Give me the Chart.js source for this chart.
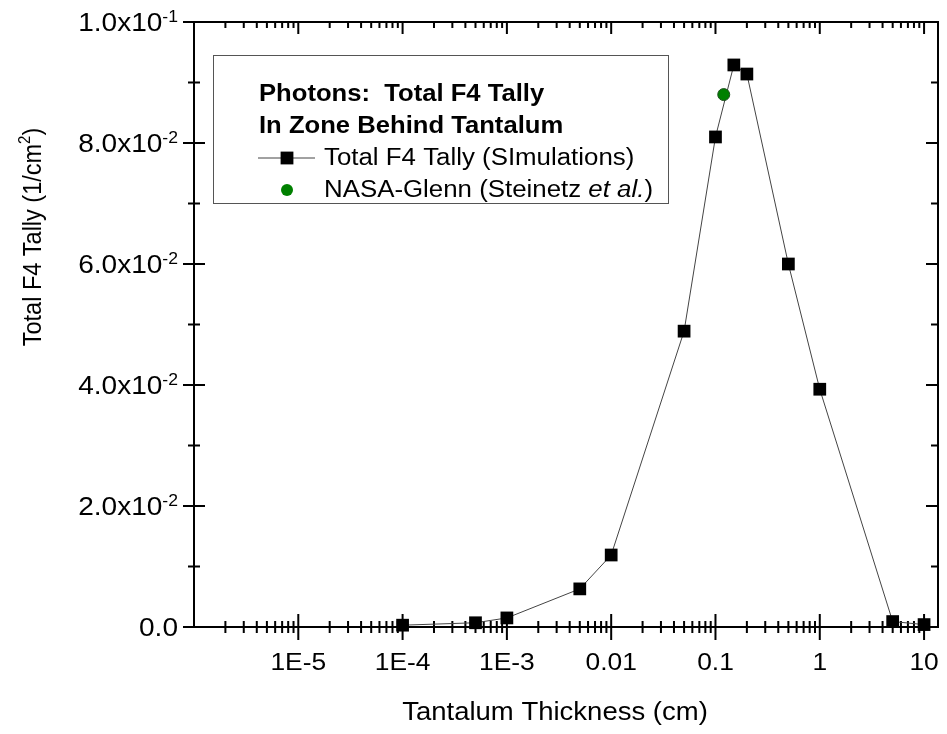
<!DOCTYPE html>
<html>
<head>
<meta charset="utf-8">
<script src="https://cdn.jsdelivr.net/npm/chart.js@4.4.0/dist/chart.umd.min.js"></script>
<style>
  html, body { margin: 0; padding: 0; background: #fff; }
  #wrap { width: 947px; height: 734px; }
</style>
</head>
<body>
<div id="wrap"><canvas id="myChart" width="947" height="734"></canvas></div>
<script>
// values
const thickness = [1e-4, 5e-4, 1e-3, 5e-3, 0.01, 0.05, 0.1, 0.15, 0.2, 0.5, 1, 5, 10]
const tally = [0.0003, 0.0007, 0.0015, 0.0063, 0.0119, 0.0489, 0.0810, 0.0929, 0.0914, 0.0600, 0.0393, 0.0009, 0.0004]
const nasaThickness = [0.12]
const nasaTally = [0.088]

const xTickValues = [1e-5, 1e-4, 1e-3, 0.01, 0.1, 1, 10]
const xTickLabels = ['1E-5', '1E-4', '1E-3', '0.01', '0.1', '1', '10']
const yTickValues = [0, 0.02, 0.04, 0.06, 0.08, 0.1]
const yTickBase = ['0.0', '2.0x10', '4.0x10', '6.0x10', '8.0x10', '1.0x10']
const yTickExp = ['', '-2', '-2', '-2', '-2', '-1']
const yMinorValues = [0.01, 0.03, 0.05, 0.07, 0.09]

const FONT = '"Liberation Sans", Arial, sans-serif'
const SX = 1.1 // the original text is a bit wide

// draw text stretched horizontally, returns drawn width
function wideText (ctx, s, x, y, font, align) {
  ctx.save()
  ctx.font = font
  const w = ctx.measureText(s).width * SX
  let x0 = x
  if (align === 'right') x0 = x - w
  if (align === 'center') x0 = x - w / 2
  ctx.translate(x0, y)
  ctx.scale(SX, 1)
  ctx.textAlign = 'left'
  ctx.textBaseline = 'alphabetic'
  ctx.fillText(s, 0, 0)
  ctx.restore()
  return w
}
function textWidth (ctx, s, font) {
  ctx.save()
  ctx.font = font
  const w = ctx.measureText(s).width * SX
  ctx.restore()
  return w
}

const axesPlugin = {
  id: 'axesPlugin',
  beforeDatasetsDraw (chart) {
    const { ctx, chartArea: a, scales: { x, y } } = chart
    ctx.save()
    ctx.strokeStyle = '#000'
    ctx.fillStyle = '#000'
    ctx.lineWidth = 2
    ctx.lineCap = 'butt'
    ctx.strokeRect(a.left, a.top, a.right - a.left, a.bottom - a.top)

    ctx.beginPath()
    x.ticks.forEach(t => {
      const px = x.getPixelForValue(t.value)
      if (px <= a.left + 2 || px >= a.right - 2) return
      const len = t.major ? 13 : 6
      ctx.moveTo(px, a.bottom - len)
      ctx.lineTo(px, a.bottom + len)
      ctx.moveTo(px, a.top)
      ctx.lineTo(px, a.top + (t.major ? 12 : 6))
    })
    y.ticks.forEach(t => {
      const py = y.getPixelForValue(t.value)
      const len = t.major ? 11 : 6
      ctx.moveTo(a.left - len, py)
      ctx.lineTo(a.left + len, py)
      ctx.moveTo(a.right, py)
      ctx.lineTo(a.right - (t.major ? 12 : 7), py)
    })
    ctx.stroke()

    // x tick labels
    const tf = '24px ' + FONT
    xTickValues.forEach((v, i) => {
      wideText(ctx, xTickLabels[i], x.getPixelForValue(v), a.bottom + 43, tf, 'center')
    })
    // y tick labels with superscript exponents
    const yl = '25.5px ' + FONT
    const sf = '16px ' + FONT
    yTickValues.forEach((v, i) => {
      const py = y.getPixelForValue(v)
      const right = a.left - 16
      let ws = 0
      if (yTickExp[i]) {
        ws = textWidth(ctx, yTickExp[i], sf)
        wideText(ctx, yTickExp[i], right - ws, py, sf, 'left')
      }
      wideText(ctx, yTickBase[i], right - ws, py + 9, yl, 'right')
    })

    // x title
    wideText(ctx, 'Tantalum Thickness (cm)', 555, 720, '25px ' + FONT, 'center')

    // y title (rotated)
    const yf = '23.5px ' + FONT
    const yfs = '15px ' + FONT
    ctx.save()
    ctx.translate(32, 237)
    ctx.rotate(-Math.PI / 2)
    ctx.scale(1, SX)
    ctx.textBaseline = 'alphabetic'
    ctx.textAlign = 'left'
    const p1 = 'Total F4 Tally (1/cm'
    ctx.font = yf
    const w1 = ctx.measureText(p1).width
    const w3 = ctx.measureText(')').width
    ctx.font = yfs
    const w2 = ctx.measureText('2').width
    const total = w1 + w2 + w3
    let cx = -total / 2
    ctx.font = yf
    ctx.fillText(p1, cx, 8)
    cx += w1
    ctx.font = yfs
    ctx.fillText('2', cx, -2)
    cx += w2
    ctx.font = yf
    ctx.fillText(')', cx, 8)
    ctx.restore()

    ctx.restore()
  }
}

const legendPlugin = {
  id: 'legendBox',
  afterDraw (chart) {
    const { ctx } = chart
    const sim = chart.data.datasets[1]
    const nasa = chart.data.datasets[0]
    ctx.save()
    ctx.fillStyle = '#fff'
    ctx.fillRect(213, 55, 455, 148)
    ctx.strokeStyle = '#555'
    ctx.lineWidth = 1
    ctx.strokeRect(213.5, 55.5, 455, 148)

    ctx.fillStyle = '#000'
    const bf = 'bold 23.3px ' + FONT
    const nf = '23.5px ' + FONT
    const itf = 'italic 23.5px ' + FONT
    wideText(ctx, 'Photons:  Total F4 Tally', 259, 101, bf, 'left')
    wideText(ctx, 'In Zone Behind Tantalum', 259, 133, bf, 'left')

    // simulations symbol
    ctx.strokeStyle = sim.borderColor
    ctx.lineWidth = sim.borderWidth
    ctx.beginPath()
    ctx.moveTo(258, 158)
    ctx.lineTo(315, 158)
    ctx.stroke()
    ctx.fillStyle = sim.pointBackgroundColor
    ctx.fillRect(287 - 6.4, 158 - 6.4, 12.8, 12.8)
    ctx.fillStyle = '#000'
    wideText(ctx, sim.label, 324, 165, nf, 'left')

    // nasa symbol
    ctx.fillStyle = nasa.backgroundColor
    ctx.beginPath()
    ctx.arc(287, 190, 6, 0, Math.PI * 2)
    ctx.fill()
    ctx.fillStyle = '#000'
    let lx = 324
    lx += wideText(ctx, 'NASA-Glenn (Steinetz ', lx, 197, nf, 'left')
    lx += wideText(ctx, 'et al.', lx, 197, itf, 'left')
    wideText(ctx, ')', lx, 197, nf, 'left')
    ctx.restore()
  }
}

const ctx = document.getElementById('myChart')

new Chart(ctx, {
  type: 'line',
  data: {
    datasets: [{
      label: 'NASA-Glenn (Steinetz et al.)',
      data: nasaThickness.map((v, i) => ({ x: v, y: nasaTally[i] })),
      showLine: false,
      pointStyle: 'circle',
      pointRadius: 6,
      backgroundColor: '#008000',
      borderColor: '#1f4f1f',
      borderWidth: 1,
      order: 0,
      clip: false
    }, {
      label: 'Total F4 Tally (SImulations)',
      data: thickness.map((v, i) => ({ x: v, y: tally[i] })),
      borderColor: '#444',
      borderWidth: 1,
      tension: 0,
      pointStyle: 'rect',
      pointRadius: 9,
      pointBackgroundColor: '#000',
      pointBorderColor: '#000',
      pointBorderWidth: 0,
      order: 1,
      clip: false
    }]
  },
  options: {
    responsive: false,
    animation: false,
    layout: { padding: { top: 22, right: 6, left: 0, bottom: 0 } },
    plugins: {
      legend: { display: false },
      tooltip: { enabled: false }
    },
    scales: {
      x: {
        type: 'logarithmic',
        min: 1e-6,
        max: 13.6,
        grid: { display: false },
        border: { display: false },
        ticks: { display: false },
        afterBuildTicks: (scale) => {
          const ticks = []
          for (let e = -6; e <= 1; e++) {
            for (let m = 1; m <= 9; m++) {
              const v = m * Math.pow(10, e)
              if (v >= scale.min && v <= scale.max) ticks.push({ value: v, major: m === 1 })
            }
          }
          scale.ticks = ticks
        },
        afterFit: (scale) => { scale.height = 107 }
      },
      y: {
        type: 'linear',
        min: 0,
        max: 0.1,
        grid: { display: false },
        border: { display: false },
        ticks: { display: false },
        afterBuildTicks: (scale) => {
          const ticks = yTickValues.map(v => ({ value: v, major: true }))
            .concat(yMinorValues.map(v => ({ value: v, major: false })))
          scale.ticks = ticks
        },
        afterFit: (scale) => { scale.width = 194 }
      }
    }
  },
  plugins: [axesPlugin, legendPlugin]
})
</script>
</body>
</html>
